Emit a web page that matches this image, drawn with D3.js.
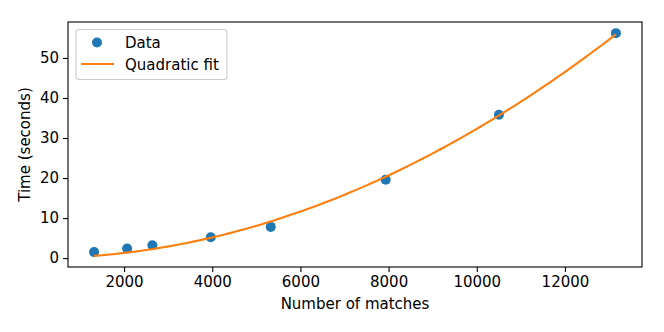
<!DOCTYPE html>
<html>
<head>
<meta charset="utf-8">
<script src="https://cdn.jsdelivr.net/npm/d3@7"></script>
<style>
  body { margin: 0; background: #fff; }
  svg { display: block; font-family: "DejaVu Sans", sans-serif; }
</style>
</head>
<body>
<div id="chart"></div>
<script>
// data
const matches = [1320, 2068, 2642, 3966, 5327, 7934, 10503, 13156];
const seconds = [1.5, 2.4, 3.2, 5.2, 7.8, 19.6, 35.8, 56.2];
const xTicks = [2000, 4000, 6000, 8000, 10000, 12000];
const yTicks = [0, 10, 20, 30, 40, 50];
const legendLabels = ["Data", "Quadratic fit"];

const width = 664, height = 332;
const plotLeft = 68, plotRight = 642, plotTop = 22, plotBottom = 267;
const fontSize = "15px";

const blue = "#1f77b4", orange = "#ff7f0e";

// least squares fit of y = a * x^2
const a = d3.sum(matches, (d, i) => seconds[i] * d * d) / d3.sum(matches, d => d * d * d * d);
const fit = v => a * v * v;
const fitX = d3.range(0, 101).map(i => matches[0] + (matches[matches.length - 1] - matches[0]) * i / 100);
const fitY = fitX.map(fit);

// axis limits with matplotlib's 5% margins
const xExt = d3.extent(matches);
const yExt = d3.extent(seconds.concat(fitY));
const xPad = (xExt[1] - xExt[0]) * 0.05, yPad = (yExt[1] - yExt[0]) * 0.05;

const x = d3.scaleLinear().domain([xExt[0] - xPad, xExt[1] + xPad]).range([plotLeft, plotRight]);
const y = d3.scaleLinear().domain([yExt[0] - yPad, yExt[1] + yPad]).range([plotBottom, plotTop]);

const svg = d3.select("#chart").append("svg")
  .attr("width", width)
  .attr("height", height);

const xAxis = svg.append("g")
  .attr("transform", `translate(0,${plotBottom})`)
  .call(d3.axisBottom(x).tickValues(xTicks).tickFormat(d3.format("d")).tickSize(5).tickPadding(4));
const yAxis = svg.append("g")
  .attr("transform", `translate(${plotLeft},0)`)
  .call(d3.axisLeft(y).tickValues(yTicks).tickFormat(d3.format("d")).tickSize(5).tickPadding(4));

[xAxis, yAxis].forEach(g => {
  g.select(".domain").remove();
  g.selectAll("line").attr("stroke", "#000").attr("stroke-width", 1.1);
  g.selectAll("text").attr("fill", "#000").style("font-size", fontSize).style("font-family", "DejaVu Sans");
});

// frame
svg.append("rect")
  .attr("x", plotLeft).attr("y", plotTop)
  .attr("width", plotRight - plotLeft).attr("height", plotBottom - plotTop)
  .attr("fill", "none").attr("stroke", "#000").attr("stroke-width", 1.1);

// data points
svg.append("g").selectAll("circle")
  .data(matches)
  .enter()
  .append("circle")
  .attr("cx", d => x(d))
  .attr("cy", (d, i) => y(seconds[i]))
  .attr("r", 5)
  .attr("fill", blue);

// fit line
svg.append("path")
  .datum(fitX)
  .attr("fill", "none")
  .attr("stroke", orange)
  .attr("stroke-width", 2.1)
  .attr("d", d3.line().x(d => x(d)).y((d, i) => y(fitY[i])));

// axis labels
svg.append("text")
  .attr("x", (plotLeft + plotRight) / 2).attr("y", 309)
  .attr("text-anchor", "middle")
  .style("font-size", fontSize)
  .text("Number of matches");
svg.append("text")
  .attr("transform", `translate(30,${(plotTop + plotBottom) / 2}) rotate(-90)`)
  .attr("text-anchor", "middle")
  .style("font-size", fontSize)
  .text("Time (seconds)");

// legend
const legend = svg.append("g");
legend.append("rect")
  .attr("x", 76).attr("y", 29.5)
  .attr("width", 151).attr("height", 50)
  .attr("rx", 3)
  .attr("fill", "#fff").attr("fill-opacity", 0.8)
  .attr("stroke", "#ccc").attr("stroke-width", 1.1);
legend.append("circle")
  .attr("cx", 97).attr("cy", 42.5).attr("r", 5).attr("fill", blue);
legend.append("line")
  .attr("x1", 81).attr("x2", 114).attr("y1", 64).attr("y2", 64)
  .attr("stroke", orange).attr("stroke-width", 2.1);
legend.selectAll("text.lab")
  .data(legendLabels)
  .enter()
  .append("text")
  .attr("class", "lab")
  .attr("x", 125)
  .attr("y", (d, i) => 48 + i * 21.5)
  .style("font-size", fontSize)
  .text(d => d);
</script>
</body>
</html>
